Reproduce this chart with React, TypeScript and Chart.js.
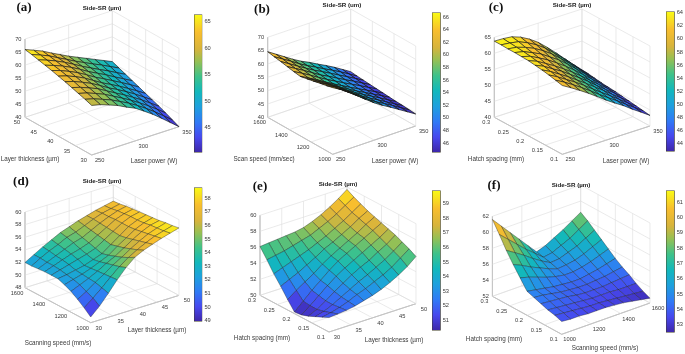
import React, { useEffect, useRef } from "react";
import { Chart, registerables } from "chart.js";

Chart.register(...registerables);

const TITLE_MICRO = "Side-SR (µm)";
const TITLE_UM = "Side-SR (um)";
const LASER_TICKS = [250, 300, 350];
const LAYER_TICKS = [30, 35, 40, 45, 50];
const SPEED_TICKS = [1000, 1200, 1400, 1600];
const HATCH_TICKS = [0.1, 0.15, 0.2, 0.25, 0.3];

const zA = [
  [59, 58.2, 57, 55.7, 54, 52.5, 50.3, 48, 45.4, 42.7, 40],
  [59.9, 59, 57.7, 56.4, 54.7, 53, 51, 48.8, 46.4, 43.8, 41.2],
  [60.7, 59.8, 58.5, 57.1, 55.3, 53.5, 51.6, 49.5, 47.3, 44.9, 42.4],
  [61.5, 60.5, 59.2, 57.8, 55.9, 54, 52.2, 50.2, 48.1, 45.8, 43.5],
  [62.3, 61.3, 59.9, 58.4, 56.5, 54.5, 52.8, 50.9, 48.9, 46.7, 44.5],
  [63, 62, 60.6, 59, 57, 55, 53.3, 51.5, 49.6, 47.6, 45.5],
  [63.7, 62.6, 61.2, 59.6, 57.7, 55.7, 54, 52.2, 50.4, 48.5, 46.5],
  [64.3, 63.1, 61.8, 60.2, 58.4, 56.4, 54.7, 53, 51.1, 49.3, 47.5],
  [64.9, 63.7, 62.3, 60.7, 58.9, 57, 55.3, 53.6, 52, 50.2, 48.5],
  [65.5, 64.2, 62.8, 61, 59.3, 57.5, 55.9, 54.3, 52.8, 51.1, 49.5],
  [66, 64.6, 63.2, 61.4, 59.7, 58, 56.5, 55, 53.5, 52, 50.5],
];
const zB = [
  [65, 63.2, 61, 58.7, 56.3, 54, 52, 50.2, 48.3, 46.4, 44.5],
  [64.4, 62.7, 60.6, 58.4, 56.1, 53.9, 51.9, 50.2, 48.4, 46.5, 44.7],
  [63.9, 62.2, 60.2, 58.1, 55.9, 53.8, 51.9, 50.2, 48.4, 46.6, 44.9],
  [63.3, 61.6, 59.8, 57.8, 55.7, 53.7, 51.9, 50.2, 48.5, 46.7, 45],
  [62.8, 61.1, 59.3, 57.4, 55.4, 53.6, 51.8, 50.2, 48.5, 46.9, 45.2],
  [62.3, 60.6, 58.9, 57, 55.2, 53.5, 51.8, 50.2, 48.6, 47, 45.4],
  [62.7, 61, 59.2, 57.3, 55.5, 53.8, 52.1, 50.5, 48.9, 47.2, 45.6],
  [63.2, 61.4, 59.6, 57.7, 55.8, 54.2, 52.5, 50.8, 49.2, 47.5, 45.8],
  [63.7, 61.8, 59.9, 58, 56.2, 54.6, 52.9, 51.2, 49.5, 47.8, 46],
  [64.1, 62.2, 60.3, 58.3, 56.5, 54.9, 53.2, 51.6, 49.9, 48.1, 46.2],
  [64.6, 62.6, 60.6, 58.6, 56.8, 55.3, 53.6, 52, 50.3, 48.4, 46.5],
];
const zC = [
  [61.5, 59.9, 58.2, 56.4, 54.5, 52.5, 50.7, 49, 47, 45.2, 43.3],
  [62, 60.5, 58.8, 57, 55.1, 53.1, 51.2, 49.4, 47.4, 45.5, 43.6],
  [62.5, 61, 59.3, 57.6, 55.7, 53.7, 51.7, 49.8, 47.8, 45.8, 43.9],
  [62.9, 61.5, 59.8, 58.1, 56.2, 54.3, 52.3, 50.3, 48.2, 46.2, 44.2],
  [63.2, 62, 60.3, 58.7, 56.8, 54.9, 52.9, 50.7, 48.6, 46.6, 44.5],
  [63.5, 62.4, 60.8, 59.2, 57.4, 55.5, 53.4, 51.2, 49, 46.9, 44.8],
  [63.6, 62.8, 61.4, 59.9, 58.1, 56.2, 54.1, 51.8, 49.5, 47.2, 45],
  [63.7, 63.1, 61.9, 60.6, 58.8, 57, 54.8, 52.4, 50, 47.6, 45.2],
  [63.7, 63.3, 62.4, 61.2, 59.6, 57.7, 55.4, 53, 50.5, 47.9, 45.5],
  [63.8, 63.5, 63, 61.8, 60.3, 58.4, 56, 53.5, 50.9, 48.2, 45.8],
  [63.8, 63.7, 63.4, 62.4, 60.9, 59, 56.6, 54, 51.3, 48.6, 46],
];
const zD = [
  [48.9, 50.2, 51.8, 53.5, 55, 56.2, 56.9, 57.4, 57.9, 58.3, 58.7],
  [49.8, 50.9, 52.1, 53.4, 54.6, 55.6, 56.4, 57.1, 57.7, 58.1, 58.5],
  [50.6, 51.4, 52.4, 53.3, 54.3, 55.1, 56, 56.8, 57.5, 58, 58.4],
  [51.3, 51.9, 52.5, 53.2, 54, 54.7, 55.6, 56.5, 57.3, 57.9, 58.2],
  [51.8, 52.2, 52.6, 53.1, 53.7, 54.3, 55.3, 56.2, 57.1, 57.7, 58.1],
  [52.2, 52.4, 52.7, 53, 53.5, 54, 55, 56, 57, 57.6, 58],
  [52.2, 52.6, 53, 53.4, 53.8, 54.3, 55.2, 56.1, 57, 57.6, 57.9],
  [52.2, 52.7, 53.2, 53.7, 54.1, 54.6, 55.4, 56.2, 57, 57.5, 57.8],
  [52.1, 52.7, 53.3, 53.9, 54.5, 54.9, 55.6, 56.3, 56.9, 57.4, 57.7],
  [52, 52.8, 53.5, 54.1, 54.8, 55.2, 55.8, 56.4, 56.9, 57.2, 57.5],
  [52, 52.8, 53.6, 54.3, 55, 55.5, 56, 56.4, 56.8, 57.1, 57.4],
];
const zE = [
  [51.8, 51.9, 52, 52.2, 52.5, 52.8, 53.2, 53.7, 54.3, 55, 55.9],
  [51.4, 51.6, 51.9, 52.3, 52.8, 53.2, 53.7, 54.2, 54.8, 55.6, 56.4],
  [51, 51.3, 51.8, 52.4, 53, 53.6, 54.1, 54.7, 55.3, 56, 56.8],
  [50.6, 51.1, 51.8, 52.6, 53.3, 54, 54.6, 55.1, 55.8, 56.4, 57.2],
  [50.3, 51.1, 52, 52.9, 53.7, 54.4, 55, 55.6, 56.2, 56.8, 57.5],
  [50.2, 51.2, 52.2, 53.1, 54, 54.8, 55.4, 56, 56.6, 57.2, 57.8],
  [51.3, 52.1, 52.8, 53.5, 54.3, 55, 55.6, 56.2, 56.8, 57.5, 58.1],
  [52.5, 53, 53.5, 54.1, 54.7, 55.4, 55.9, 56.5, 57.1, 57.8, 58.4],
  [53.6, 54, 54.4, 54.8, 55.2, 55.7, 56.2, 56.8, 57.4, 58.1, 58.8],
  [54.9, 55.1, 55.3, 55.6, 55.9, 56.2, 56.7, 57.2, 57.8, 58.5, 59.2],
  [56.1, 56.2, 56.3, 56.4, 56.5, 56.7, 57.1, 57.6, 58.2, 58.9, 59.7],
];
const zF = [
  [53.6, 53.5, 53.5, 53.4, 53.4, 53.4, 53.3, 53.2, 53, 52.8, 52.6],
  [53.9, 53.8, 53.7, 53.6, 53.5, 53.5, 53.4, 53.3, 53.2, 53.1, 53],
  [54.1, 54, 53.9, 53.8, 53.7, 53.6, 53.6, 53.6, 53.5, 53.5, 53.5],
  [54.4, 54.3, 54.2, 54.1, 53.9, 53.8, 53.8, 53.8, 53.9, 54, 54.1],
  [54.7, 54.6, 54.4, 54.2, 54.1, 54, 54, 54.1, 54.2, 54.4, 54.6],
  [55, 54.8, 54.6, 54.4, 54.3, 54.2, 54.2, 54.4, 54.6, 54.9, 55.2],
  [56.2, 55.9, 55.5, 55.1, 54.8, 54.6, 54.6, 54.8, 55.1, 55.5, 55.9],
  [57.4, 56.9, 56.3, 55.8, 55.3, 54.9, 55, 55.2, 55.6, 56.1, 56.6],
  [58.7, 58, 57.3, 56.5, 55.8, 55.2, 55.3, 55.7, 56.1, 56.7, 57.3],
  [60.2, 59.2, 58.2, 57.2, 56.3, 55.4, 55.6, 56.1, 56.6, 57.3, 58],
  [61.6, 60.4, 59.2, 58, 56.8, 55.6, 56, 56.6, 57.2, 57.9, 58.6],
];

type Panel = {
  tag: string; title: string; z: number[][];
  xTicks: number[]; yTicks: number[]; zTicks: number[];
  barRange: [number, number]; barTicks: number[];
  xName: string; yName: string;
  box: [number, number, number, number];
  F: [number, number]; ex: [number, number]; ey: [number, number]; ezLen: number;
  tagAt: [number, number]; titleAt: [number, number]; xNameAt: [number, number]; yNameAt: [number, number];
  bar: [number, number, number, number];
  meshAlpha: number; meshWidth: number;
};

const panels: Panel[] = [
  { tag: "(a)", title: TITLE_MICRO, z: zA, xTicks: LASER_TICKS, yTicks: LAYER_TICKS, zTicks: [40, 45, 50, 55, 60, 65, 70],
    barRange: [40.3, 66.35], barTicks: [45, 50, 55, 60, 65], xName: "Laser power (W)", yName: "Layer thickness (µm)",
    box: [0, 0, 193, 177], F: [91.7, 155], ex: [87.3, -28.3], ey: [-66.7, -37.7], ezLen: 78.3,
    tagAt: [24, 8], titleAt: [102, 8], xNameAt: [154, 161], yNameAt: [30, 159], bar: [194.3, 13.3, 8.4, 141], meshAlpha: 0.9, meshWidth: 0.7 },
  { tag: "(b)", title: TITLE_UM, z: zB, xTicks: LASER_TICKS, yTicks: SPEED_TICKS, zTicks: [40, 45, 50, 55, 60, 65, 70],
    barRange: [44.5, 66.73], barTicks: [46, 48, 50, 52, 54, 56, 58, 60, 62, 64, 66], xName: "Laser power (W)", yName: "Scan speed (mm/sec)",
    box: [232, 0, 199, 177], F: [332.7, 154.3], ex: [83, -28.3], ey: [-65, -37], ezLen: 80,
    tagAt: [262, 10], titleAt: [342, 5], xNameAt: [395, 161], yNameAt: [264, 159], bar: [432, 10.7, 8.7, 142.6], meshAlpha: 0.95, meshWidth: 0.75 },
  { tag: "(c)", title: TITLE_MICRO, z: zC, xTicks: LASER_TICKS, yTicks: HATCH_TICKS, zTicks: [40, 45, 50, 55, 60, 65],
    barRange: [42.8, 64.2], barTicks: [44, 46, 48, 50, 52, 54, 56, 58, 60, 62, 64], xName: "Laser power (W)", yName: "Hatch spacing (mm)",
    box: [462, 0, 204, 177], F: [562.3, 154.3], ex: [87.7, -28.3], ey: [-68, -37], ezLen: 80,
    tagAt: [496, 8], titleAt: [572, 5.5], xNameAt: [626, 161], yNameAt: [496, 159], bar: [666.3, 10.3, 8.7, 143], meshAlpha: 0.9, meshWidth: 0.7 },
  { tag: "(d)", title: TITLE_MICRO, z: zD, xTicks: LAYER_TICKS, yTicks: SPEED_TICKS, zTicks: [48, 50, 52, 54, 56, 58, 60],
    barRange: [48.93, 58.8], barTicks: [49, 50, 51, 52, 53, 54, 55, 56, 57, 58], xName: "Layer thickness (µm)", yName: "Scanning speed (mm/s)",
    box: [0, 177, 193, 177], F: [90.7, 322.7], ex: [88.3, -27.3], ey: [-65.7, -35], ezLen: 75.7,
    tagAt: [21, 182], titleAt: [102, 181], xNameAt: [157, 330], yNameAt: [58, 343], bar: [194.3, 186.3, 8.4, 137.4], meshAlpha: 0.7, meshWidth: 0.5 },
  { tag: "(e)", title: TITLE_MICRO, z: zE, xTicks: LAYER_TICKS, yTicks: HATCH_TICKS, zTicks: [50, 52, 54, 56, 58, 60],
    barRange: [50.3, 59.9], barTicks: [51, 52, 53, 54, 55, 56, 57, 58, 59], xName: "Layer thickness (µm)", yName: "Hatch spacing (mm)",
    box: [232, 177, 199, 177], F: [329, 332], ex: [87, -28.3], ey: [-69, -36.7], ezLen: 80,
    tagAt: [260, 187], titleAt: [338, 184], xNameAt: [394, 340], yNameAt: [262, 338], bar: [432, 189.3, 8.7, 143.4], meshAlpha: 0.7, meshWidth: 0.5 },
  { tag: "(f)", title: TITLE_MICRO, z: zF, xTicks: SPEED_TICKS, yTicks: HATCH_TICKS, zTicks: [52, 54, 56, 58, 60, 62],
    barRange: [52.5, 61.76], barTicks: [53, 54, 55, 56, 57, 58, 59, 60, 61], xName: "Scanning speed (mm/s)", yName: "Hatch spacing (mm)",
    box: [462, 177, 204, 177], F: [561.7, 334.3], ex: [88.3, -31.3], ey: [-69.3, -38], ezLen: 80,
    tagAt: [494, 186], titleAt: [571, 185], xNameAt: [605, 348], yNameAt: [494, 339], bar: [666.3, 189.3, 8.7, 145], meshAlpha: 0.7, meshWidth: 0.5 },
];

const PARULA: [number, number, number, number][] = [
  [0, 62, 38, 168], [0.11, 71, 72, 238], [0.22, 48, 122, 246], [0.33, 30, 160, 222], [0.44, 18, 184, 188],
  [0.55, 62, 194, 138], [0.66, 150, 192, 84], [0.75, 215, 180, 60], [0.87, 248, 190, 46], [1, 249, 251, 20],
];
function parula(t: number) {
  const v = Math.max(0, Math.min(1, t));
  for (let i = 1; i < PARULA.length; i++) {
    if (v <= PARULA[i][0]) {
      const a = PARULA[i - 1], b = PARULA[i];
      const k = (v - a[0]) / (b[0] - a[0]);
      return `rgb(${Math.round(a[1] + (b[1] - a[1]) * k)},${Math.round(a[2] + (b[2] - a[2]) * k)},${Math.round(a[3] + (b[3] - a[3]) * k)})`;
    }
  }
  return "rgb(249,251,20)";
}

const fontSans = "'Liberation Sans', Arial, sans-serif";
const TEXT = "#3a3a3a";

function makeSurface(canvas: HTMLCanvasElement, p: Panel) {
  const [left, top, w, h] = p.box;
  const xMin = p.xTicks[0], xMax = p.xTicks[p.xTicks.length - 1];
  const yMin = p.yTicks[0], yMax = p.yTicks[p.yTicks.length - 1];
  const zMin = p.zTicks[0], zMax = p.zTicks[p.zTicks.length - 1];
  const n = p.z.length;
  // orthographic projection of a normalised position in the box
  const nrm = (u: number, v: number, w3: number) => ({
    x: p.F[0] + u * p.ex[0] + v * p.ey[0],
    y: p.F[1] + u * p.ex[1] + v * p.ey[1] - w3 * p.ezLen,
  });
  const pr = (xv: number, yv: number, zv: number) =>
    nrm((xv - xMin) / (xMax - xMin), (yv - yMin) / (yMax - yMin), (zv - zMin) / (zMax - zMin));
  const datasets: any[] = [];
  const cellPoint = (j: number, i: number) => nrm(i / (n - 1), j / (n - 1), (p.z[j][i] - zMin) / (zMax - zMin));
  for (let j = 0; j < n - 1; j++) {
    for (let i = 0; i < n - 1; i++) {
      const mean = (p.z[j][i] + p.z[j][i + 1] + p.z[j + 1][i] + p.z[j + 1][i + 1]) / 4;
      const col = parula((mean - p.barRange[0]) / (p.barRange[1] - p.barRange[0]));
      datasets.push({
        data: [cellPoint(j, i), cellPoint(j, i + 1), cellPoint(j + 1, i + 1), cellPoint(j + 1, i), cellPoint(j, i)],
        showLine: true, fill: "shape", backgroundColor: col,
        borderColor: `rgba(20,20,20,${p.meshAlpha})`, borderWidth: p.meshWidth, pointRadius: 0, tension: 0,
      });
    }
  }
  const line = (a: any, b: any, color: string, width = 0.6) =>
    datasets.push({ data: [a, b], showLine: true, fill: false, borderColor: color, borderWidth: width, pointRadius: 0, tension: 0 });
  const GRID = "#dcdcdc", AXIS = "#8a8a8a";
  p.zTicks.forEach((z) => {
    line(pr(xMin, yMax, z), pr(xMax, yMax, z), GRID);
    line(pr(xMax, yMax, z), pr(xMax, yMin, z), GRID);
  });
  p.xTicks.forEach((x) => {
    line(pr(x, yMin, zMin), pr(x, yMax, zMin), GRID);
    line(pr(x, yMax, zMin), pr(x, yMax, zMax), GRID);
  });
  p.yTicks.forEach((y) => {
    line(pr(xMin, y, zMin), pr(xMax, y, zMin), GRID);
    line(pr(xMax, y, zMin), pr(xMax, y, zMax), GRID);
  });
  line(pr(xMin, yMin, zMin), pr(xMax, yMin, zMin), AXIS, 0.8);
  line(pr(xMin, yMin, zMin), pr(xMin, yMax, zMin), AXIS, 0.8);
  line(pr(xMin, yMax, zMin), pr(xMin, yMax, zMax), AXIS, 0.8);

  const labels = {
    id: "labels",
    afterDraw(chart: any) {
      const { ctx, scales } = chart;
      const X = (v: number) => scales.x.getPixelForValue(v);
      const Y = (v: number) => scales.y.getPixelForValue(v);
      const put = (t: string, px: number, py: number, font: string, color: string, align: CanvasTextAlign = "center") => {
        ctx.font = font; ctx.fillStyle = color; ctx.textAlign = align; ctx.textBaseline = "middle";
        ctx.fillText(t, X(px), Y(py));
      };
      const tickFont = `5.7px ${fontSans}`;
      p.xTicks.forEach((x) => { const q = pr(x, yMin, zMin); put(String(x), q.x + 8, q.y + 5.5, tickFont, TEXT); });
      p.yTicks.forEach((y) => { const q = pr(xMin, y, zMin); put(String(y), q.x - 8, q.y + 5.5, tickFont, TEXT); });
      p.zTicks.forEach((z) => { const q = pr(xMin, yMax, z); put(String(z), q.x - 3.5, q.y, tickFont, TEXT, "right"); });
      const nameFont = `6.3px ${fontSans}`;
      put(p.xName, p.xNameAt[0], p.xNameAt[1], nameFont, TEXT);
      put(p.yName, p.yNameAt[0], p.yNameAt[1], nameFont, TEXT);
      put(p.title, p.titleAt[0], p.titleAt[1], `bold 6.2px ${fontSans}`, "#222");
      put(p.tag, p.tagAt[0], p.tagAt[1], `bold 13px 'Liberation Serif', serif`, "#111");
    },
  };
  return new Chart(canvas, {
    type: "scatter",
    data: { datasets },
    options: {
      responsive: false, animation: false, events: [],
      layout: { padding: 0 },
      clip: false as any,
      plugins: { legend: { display: false }, tooltip: { enabled: false } },
      scales: {
        x: { type: "linear", display: false, min: left, max: left + w },
        y: { type: "linear", display: false, min: top, max: top + h, reverse: true },
      },
    },
    plugins: [labels],
  } as any);
}

function makeBar(canvas: HTMLCanvasElement, p: Panel) {
  const pad = 4;
  const [, , bw] = p.bar;
  return new Chart(canvas, {
    type: "bar",
    data: {
      labels: ["c"],
      datasets: [{
        data: [p.barRange as any],
        barPercentage: 1, categoryPercentage: 1,
        borderColor: "#3d3a20", borderWidth: 0.8, borderSkipped: false,
        backgroundColor: (ctx: any) => {
          const area = ctx.chart.chartArea;
          if (!area) return "#888";
          const g = ctx.chart.ctx.createLinearGradient(0, area.bottom, 0, area.top);
          PARULA.forEach((s) => g.addColorStop(s[0], `rgb(${s[1]},${s[2]},${s[3]})`));
          return g;
        },
      }],
    },
    options: {
      responsive: false, animation: false, events: [],
      layout: { padding: { top: pad, bottom: pad, left: 1, right: 0 } },
      plugins: { legend: { display: false }, tooltip: { enabled: false } },
      scales: {
        x: { display: false },
        y: {
          position: "right", min: p.barRange[0], max: p.barRange[1],
          grid: { display: false, drawTicks: false }, border: { display: false },
          afterBuildTicks: (s: any) => { s.ticks = p.barTicks.map((value) => ({ value })); },
          afterFit: (s: any) => { s.width = canvas.width - 1 - bw; },
          ticks: { font: { size: 5.7, family: fontSans }, color: TEXT, padding: 2, minRotation: 0, maxRotation: 0, autoSkip: false },
        },
      },
    },
  } as any);
}

export default function App() {
  const surfaces = useRef<(HTMLCanvasElement | null)[]>([]);
  const bars = useRef<(HTMLCanvasElement | null)[]>([]);
  useEffect(() => {
    const charts: Chart[] = [];
    panels.forEach((p, i) => {
      charts.push(makeSurface(surfaces.current[i]!, p));
      charts.push(makeBar(bars.current[i]!, p));
    });
    return () => charts.forEach((c) => c.destroy());
  }, []);
  return (
    <div style={{ position: "absolute", left: 0, top: 0, width: 685, height: 354, overflow: "hidden", background: "#fff", filter: "blur(0.35px)" }}>
      {panels.map((p, i) => {
        const [bx, by, , bh] = p.bar;
        const barW = Math.min(685 - Math.round(bx) + 1, 22);
        return (
          <React.Fragment key={p.tag}>
            <canvas ref={(el) => { surfaces.current[i] = el; }} width={p.box[2]} height={p.box[3]}
              style={{ position: "absolute", left: p.box[0], top: p.box[1] }} />
            <canvas ref={(el) => { bars.current[i] = el; }} width={barW} height={Math.round(bh) + 8}
              style={{ position: "absolute", left: Math.round(bx) - 1, top: Math.round(by) - 4 }} />
          </React.Fragment>
        );
      })}
    </div>
  );
}
